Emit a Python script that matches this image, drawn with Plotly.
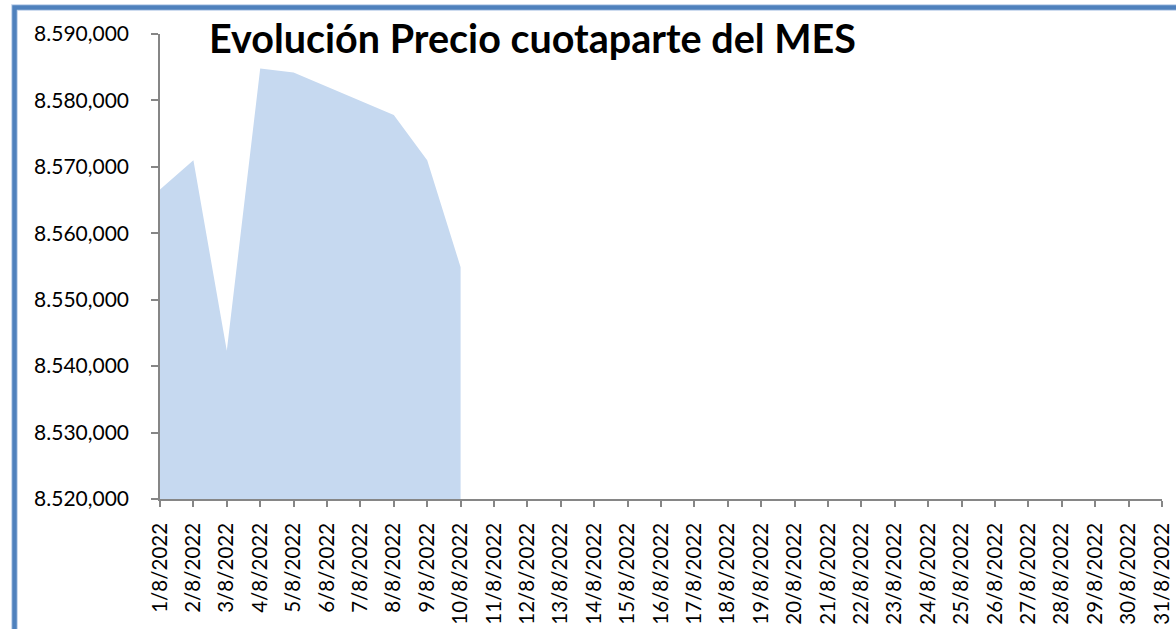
import plotly.graph_objects as go

dates = ["1/8/2022", "2/8/2022", "3/8/2022", "4/8/2022", "5/8/2022", "6/8/2022",
         "7/8/2022", "8/8/2022", "9/8/2022", "10/8/2022", "11/8/2022", "12/8/2022",
         "13/8/2022", "14/8/2022", "15/8/2022", "16/8/2022", "17/8/2022", "18/8/2022",
         "19/8/2022", "20/8/2022", "21/8/2022", "22/8/2022", "23/8/2022", "24/8/2022",
         "25/8/2022", "26/8/2022", "27/8/2022", "28/8/2022", "29/8/2022", "30/8/2022",
         "31/8/2022"]
prices = [8566.6, 8571.0, 8542.3, 8584.8, 8584.2, 8582.1, 8580.0, 8577.8, 8571.0, 8554.9]
y_ticks = [8520, 8530, 8540, 8550, 8560, 8570, 8580, 8590]
title_text = "Evolución Precio cuotaparte del MES"

W, H = 1176, 629
plot_left, plot_right, plot_top, plot_bottom = 160, 1162, 34, 499  # screen px
ml = plot_left
mt = plot_top
mr = W - plot_right
mb = H - plot_bottom
pw, ph = W - ml - mr, H - mt - mb

def px(xs):
    return (xs - ml) / pw

def py(ys):
    return (H - mb - ys) / ph

font_main = "Lato, 'Open Sans', sans-serif"
axis_col = "#868686"

fig = go.Figure()
fig.add_trace(go.Scatter(
    x=dates[:len(prices)], y=prices, mode="lines", fill="tozeroy",
    line=dict(width=0, color="#C6D9F0"), fillcolor="#C6D9F0",
    hoverinfo="x+y", showlegend=False,
))

fig.update_layout(
    width=W, height=H,
    margin=dict(l=ml, r=mr, t=mt, b=mb, pad=0, autoexpand=False),
    paper_bgcolor="white", plot_bgcolor="white",
    separators=",.",
    font=dict(family=font_main, color="black", size=21),
    xaxis=dict(
        type="category", categoryorder="array", categoryarray=dates,
        tickmode="array", tickvals=dates, ticktext=dates,
        range=[0, len(dates) - 1], tickangle=-90, automargin=False,
        showgrid=False, zeroline=False,
        showline=True, linecolor=axis_col, linewidth=1.5,
        ticks="outside", ticklen=6, tickcolor=axis_col, tickwidth=1.5,
        tickfont=dict(family=font_main, size=20.5, color="black"),
        ticklabelstandoff=8,
    ),
    yaxis=dict(
        range=[y_ticks[0], y_ticks[-1]], tickmode="array", tickvals=y_ticks,
        tickformat=",.3f", automargin=False,
        showgrid=False, zeroline=False,
        showline=True, linecolor=axis_col, linewidth=1.5,
        ticks="outside", ticklen=7, tickcolor=axis_col, tickwidth=1.5,
        tickfont=dict(family=font_main, size=21, color="black"),
        ticklabelstandoff=18,
    ),
    annotations=[dict(
        text="<b>" + title_text + "</b>", xref="paper", yref="paper",
        x=px(532), y=py(37), xanchor="center", yanchor="middle",
        showarrow=False, font=dict(family=font_main, size=39.5, color="black"),
    )],
    shapes=[
        dict(type="rect", xref="paper", yref="paper",
             x0=px(14.5), x1=px(W + 40), y0=py(H + 40), y1=py(7.5),
             line=dict(color="#BDD0EA", width=6.5), layer="above"),
        dict(type="rect", xref="paper", yref="paper",
             x0=px(14.5), x1=px(W + 40), y0=py(H + 40), y1=py(7.5),
             line=dict(color="#4F81BD", width=4.5), layer="above"),
    ],
)

fig.write_html(
    "out.html",
    config={"displayModeBar": False},
    post_script="document.body.style.margin='0';document.body.style.overflow='hidden';",
)
